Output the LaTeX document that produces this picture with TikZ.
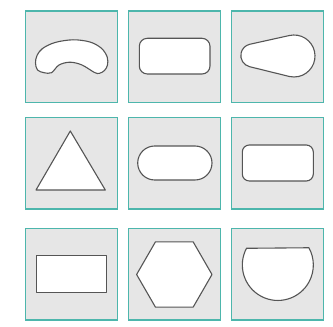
\documentclass[tikz,border=0pt]{standalone}
\definecolor{tealb}{HTML}{4DB6AC}
\definecolor{cellfill}{HTML}{E6E6E6}
\definecolor{shapeline}{HTML}{555555}
\tikzset{
  cell/.style={draw=tealb, fill=cellfill, line width=1.5pt},
  shp/.style={draw=shapeline, fill=white, line width=1.1pt, line join=round}
}
\begin{document}
\begin{tikzpicture}[x=1pt,y=1pt]
\useasboundingbox (0,0) rectangle (333,327);
% cells
\foreach \cx in {25.5,128.5,231.5}{
  \foreach \cy in {224.5,118,7}{
    \path[cell] (\cx,\cy) rectangle ++(92,91.5);
  }
}
% row 1, col 1: kidney
\path[shp] plot[smooth cycle, tension=0.55] coordinates {
  (51.5,254.3) (44,254.3) (37.5,257) (35.5,264) (37,271.5) (42.5,278.5)
  (55,284.5) (73,287.2) (90,285) (101.5,278.7) (107.2,270) (107.5,262)
  (104.5,256.5) (99.5,253.7) (94.5,254.5) (82,262) (70,264.8) (59,262)};
% row 1, col 2: rounded rectangle
\path[shp, rounded corners=8pt] (139.3,253) rectangle (210,288.7);
% row 1, col 3: teardrop
\path[shp] (249.7,282.7) -- (289.24,291.45)
  arc[start angle=103.1, end angle=-103.1, radius=21pt]
  -- (249.7,260.3)
  arc[start angle=256.9, end angle=103.1, radius=11.5pt] -- cycle;
% row 2, col 1: triangle
\path[shp] (70.3,196) -- (105.3,137) -- (36,137) -- cycle;
% row 2, col 2: stadium
\path[shp, rounded corners=17pt] (137.7,147) rectangle (212,181);
% row 2, col 3: rounded rectangle
\path[shp, rounded corners=7pt] (242.3,146) rectangle (313.3,182);
% row 3, col 1: rectangle
\path[shp] (36.7,34.7) rectangle (106.7,71.3);
% row 3, col 2: hexagon
\path[shp] (212,52.5) -- (193.15,85.15) -- (155.45,85.15) -- (136.6,52.5)
  -- (155.45,19.85) -- (193.15,19.85) -- cycle;
% row 3, col 3: cut circle
\path[shp] (246.5,78.7) arc[start angle=152, end angle=389, radius=35.5pt] -- cycle;
\end{tikzpicture}
\end{document}
